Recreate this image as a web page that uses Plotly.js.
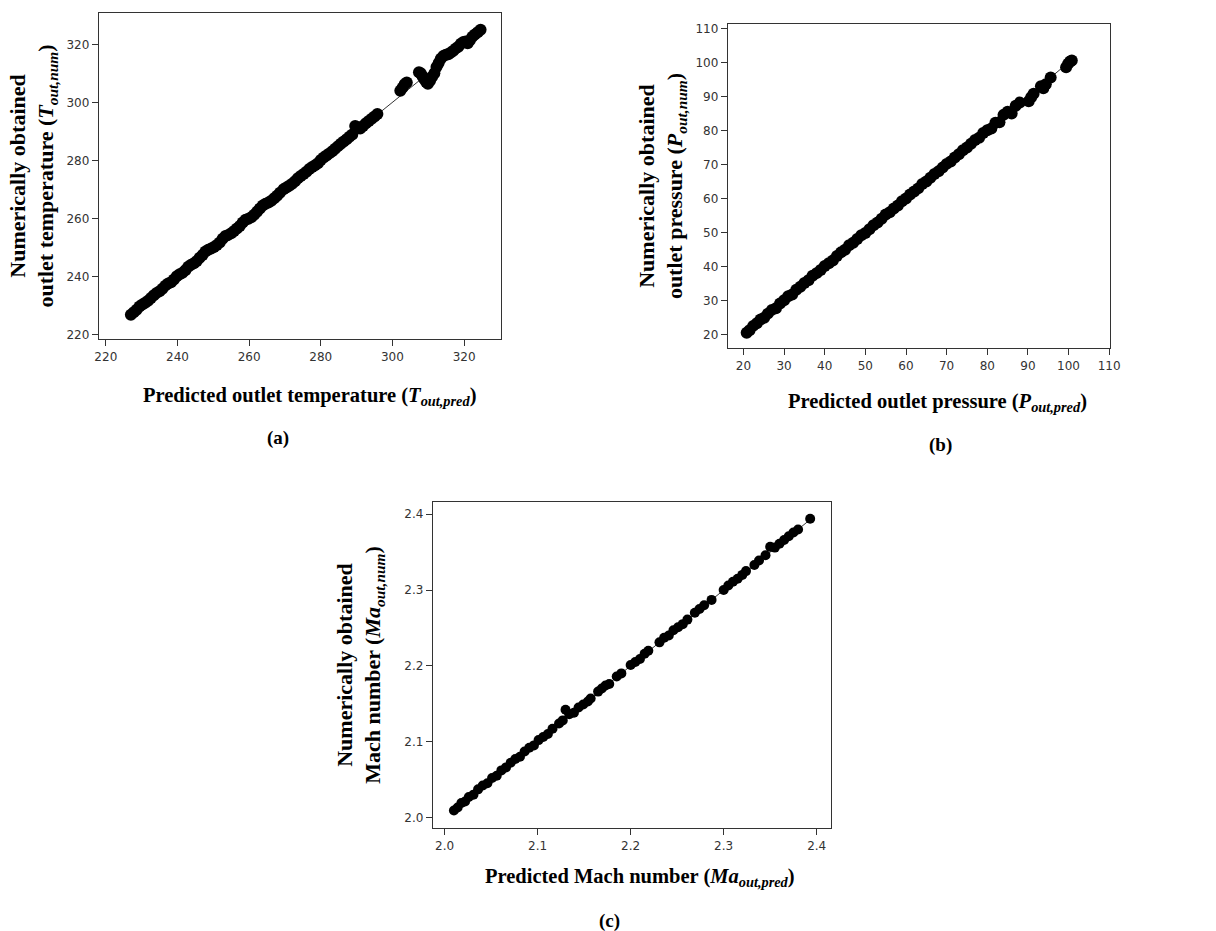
<!DOCTYPE html>
<html>
<head>
<meta charset="utf-8">
<script src="https://cdn.plot.ly/plotly-3.0.1.min.js"></script>
<style>
  html, body { margin: 0; padding: 0; background: #ffffff; }
  #chart { width: 1216px; height: 931px; }
</style>
</head>
<body>
<div id="chart"></div>
<script>
// ---------- Panel (a): outlet temperature ----------
const predA = [227.0,227.8,228.6,229.4,230.2,231.0,231.8,232.6,233.4,234.2,235.0,235.8,236.6,237.4,238.2,239.0,239.8,240.6,241.4,242.2,243.0,243.8,244.6,245.4,246.2,247.0,247.8,248.6,249.4,250.2,251.0,251.8,252.6,253.4,254.2,255.0,255.8,256.6,257.4,258.2,259.0,259.8,260.6,261.4,262.2,263.0,263.8,264.6,265.4,266.2,267.0,267.8,268.6,
  269.6,270.4,271.2,272.0,272.8,273.6,274.4,275.2,276.0,276.8,277.6,278.4,279.2,280.0,280.8,281.6,282.4,283.2,284.0,284.8,285.6,286.4,287.2,288.0,288.8,289.6,
  290.2,291.0,291.8,292.6,293.4,294.2,295.0,295.8,
  302.2,302.8,303.4,304.0,
  307.4,307.9,308.4,308.9,309.4,309.9,310.5,311.1,311.7,312.3,312.9,313.5,314.2,314.9,315.6,316.3,317.0,317.7,318.4,319.1,319.8,320.4,321.0,321.6,322.3,323.0,323.8,324.6];
const numA = [226.8,227.6,228.5,229.6,230.3,230.9,231.6,232.5,233.5,234.3,234.9,235.7,236.8,237.5,238.0,238.9,240.0,240.7,241.2,242.1,243.3,244.0,244.5,245.3,246.4,247.4,248.6,249.2,249.6,250.1,250.8,251.7,253.0,253.9,254.3,254.9,255.6,256.5,257.4,258.6,259.5,259.9,260.4,261.2,262.3,263.4,264.4,265.0,265.5,266.1,266.9,267.8,268.8,
  270.0,270.6,271.2,271.9,272.8,273.8,274.6,275.3,276.1,277.0,277.7,278.3,279.0,280.1,281.0,281.7,282.4,283.1,284.0,284.9,285.7,286.5,287.3,288.1,288.9,291.8,
  291.4,291.0,291.8,292.8,293.6,294.3,295.1,296.0,
  304.0,305.0,306.2,306.8,
  310.4,310.0,309.0,308.0,307.0,306.4,307.4,308.8,310.0,312.2,313.6,315.0,316.0,316.4,316.6,317.2,317.8,318.6,319.2,320.2,320.8,321.0,320.4,321.4,322.6,323.4,324.2,325.0];
const fitAx = [227.0, 324.6];
const fitAy = [227.0, 324.6];
const ticksA = [220, 240, 260, 280, 300, 320];

// ---------- Panel (b): outlet pressure ----------
const predB = [20.8,21.5,22.4,23.3,24.2,25.1,26.0,27.0,28.0,29.0,30.0,31.0,32.0,33.0,34.0,35.0,36.0,37.0,38.0,39.0,40.0,41.0,42.0,43.0,44.0,45.0,46.0,47.0,48.0,49.0,50.0,51.0,52.0,53.0,54.0,55.0,56.0,57.0,58.0,59.0,60.0,61.0,62.0,63.0,64.0,65.0,66.0,67.0,68.0,69.0,70.0,71.0,72.0,73.0,74.0,75.0,76.0,77.0,78.0,79.0,80.0,81.0,82.0,83.0,84.0,85.0,86.0,87.0,88.0,
  90.2,90.8,91.4, 93.2,93.8,94.4, 95.6, 99.4,99.9,100.4,100.8];
const numB = [20.6,21.3,22.6,23.4,24.5,25.0,26.2,27.3,27.8,29.2,30.1,31.3,31.8,33.2,34.1,35.2,36.0,37.3,38.1,39.0,40.2,41.0,41.8,43.1,44.2,45.0,46.3,47.0,48.1,49.2,49.9,51.0,52.2,53.0,54.1,55.3,56.0,57.1,58.0,59.2,60.0,61.2,62.1,63.0,64.3,65.0,66.1,67.2,68.0,69.1,70.2,70.9,72.1,73.0,74.2,75.0,76.1,77.2,77.9,79.3,80.1,80.6,82.3,82.4,84.6,85.5,85.0,87.3,88.2,
  88.6,89.8,90.8, 93.0,92.4,93.6, 95.6, 98.6,99.6,100.3,100.6];
const fitBx = [20.8, 100.8];
const fitBy = [20.8, 100.8];
const ticksB = [20, 30, 40, 50, 60, 70, 80, 90, 100, 110];

// ---------- Panel (c): Mach number ----------
const predC = [2.010,2.014,2.018,2.022,2.026,2.031,2.036,2.041,2.046,2.051,2.056,2.061,2.066,2.071,2.076,2.081,2.086,2.091,2.096,2.101,2.106,2.111,2.116,
  2.123,2.127,2.130,2.134,2.139,2.144,2.149,2.154,2.157,
  2.165,2.169,2.173,2.177,
  2.185,2.190,
  2.200,2.205,2.210,2.215,2.219,
  2.231,2.236,2.241,2.246,2.251,2.256,2.261,
  2.269,2.274,2.279,
  2.287,
  2.300,2.305,2.310,2.315,2.320,2.324,
  2.333,2.338,
  2.345,2.350,2.355,2.360,2.365,2.370,2.375,2.380,
  2.393];
const numC = [2.009,2.013,2.019,2.021,2.027,2.030,2.037,2.042,2.045,2.052,2.055,2.062,2.066,2.072,2.077,2.080,2.087,2.092,2.095,2.102,2.106,2.110,2.117,
  2.124,2.128,2.142,2.136,2.138,2.145,2.149,2.153,2.157,
  2.166,2.170,2.174,2.176,
  2.186,2.190,
  2.201,2.205,2.209,2.216,2.220,
  2.231,2.237,2.240,2.247,2.251,2.255,2.261,
  2.270,2.275,2.280,
  2.287,
  2.300,2.306,2.311,2.315,2.320,2.325,
  2.333,2.339,
  2.346,2.357,2.356,2.361,2.366,2.371,2.376,2.380,
  2.394];
const fitCx = [2.010, 2.393];
const fitCy = [2.010, 2.393];
const ticksC = [2.0, 2.1, 2.2, 2.3, 2.4];

// ---------- text ----------
const xTitleA = "<b>Predicted outlet temperature (<i>T</i><sub><i>out,pred</i></sub>)</b>";
const yTitleA = "<b>Numerically obtained<br>outlet temperature (<i>T</i><sub><i>out,num</i></sub>)</b>";
const xTitleB = "<b>Predicted outlet pressure (<i>P</i><sub><i>out,pred</i></sub>)</b>";
const yTitleB = "<b>Numerically obtained<br>outlet pressure (<i>P</i><sub><i>out,num</i></sub>)</b>";
const xTitleC = "<b>Predicted Mach number (<i>Ma</i><sub><i>out,pred</i></sub>)</b>";
const yTitleC = "<b>Numerically obtained<br>Mach number (<i>Ma</i><sub><i>out,num</i></sub>)</b>";
const panelLabels = ["(a)", "(b)", "(c)"];

// ---------- styling ----------
const serif = "Liberation Serif, Times New Roman, serif";
const sans = "DejaVu Sans, Verdana, sans-serif";
const lineStyle = { color: "#000000", width: 0.8 };

function scatter(x, y, xa, ya, size) {
  return { x: x, y: y, xaxis: xa, yaxis: ya, type: "scatter", mode: "markers",
           marker: { color: "#000000", size: size, symbol: "circle", line: { width: 0 } },
           hoverinfo: "x+y", showlegend: false };
}
function fit(x, y, xa, ya) {
  return { x: x, y: y, xaxis: xa, yaxis: ya, type: "scatter", mode: "lines",
           line: lineStyle, hoverinfo: "skip", showlegend: false };
}

const data = [
  fit(fitAx, fitAy, "x", "y"), scatter(predA, numA, "x", "y", 12),
  fit(fitBx, fitBy, "x2", "y2"), scatter(predB, numB, "x2", "y2", 12),
  fit(fitCx, fitCy, "x3", "y3"), scatter(predC, numC, "x3", "y3", 10)
];

function axis(domain, range, ticks, anchor, title, standoff, fmt) {
  const a = {
    domain: domain, range: range, anchor: anchor,
    tickmode: "array", tickvals: ticks,
    ticks: "outside", ticklen: 6, tickwidth: 1, tickcolor: "#333333",
    showline: true, linecolor: "#333333", linewidth: 1.2, mirror: true,
    showgrid: false, zeroline: false,
    tickfont: { family: sans, size: 12, color: "#333333" },
    automargin: false, fixedrange: true
  };
  if (title) a.title = { text: title, font: { family: serif, size: 22, color: "#000000" }, standoff: standoff };
  if (fmt) a.tickformat = fmt;
  return a;
}

const W = 1216, H = 931;
const fx = (a, b) => [a / W, b / W];
const fy = (top, bottom) => [1 - bottom / H, 1 - top / H];
function label(text, px, py, size) {
  return { text: text, x: px / W, y: 1 - py / H, xref: "paper", yref: "paper",
           xanchor: "center", yanchor: "middle", showarrow: false,
           font: { family: serif, size: size, color: "#000" } };
}

const layout = {
  width: W, height: H,
  margin: { l: 0, r: 0, t: 0, b: 0 },
  paper_bgcolor: "#ffffff", plot_bgcolor: "#ffffff",
  showlegend: false,
  xaxis: axis(fx(99, 501), [218.1, 330.3], ticksA, "y", null),
  yaxis: axis(fy(13, 339), [218.4, 330.8], ticksA, "x", yTitleA, 6),
  xaxis2: axis(fx(728, 1110), [16.2, 110.2], ticksB, "y2", null),
  yaxis2: axis(fy(24, 348), [16.1, 111.3], ticksB, "x2", yTitleB, 6),
  xaxis3: axis(fx(433, 831), [1.9875, 2.4154], ticksC, "y3", null, 0, ".1f"),
  yaxis3: axis(fy(502, 828), [1.986, 2.4162], ticksC, "x3", yTitleC, 17, ".1f"),
  annotations: [
    label(xTitleA, 309, 396, 20.5),
    label(xTitleB, 937, 402, 20.5),
    label(xTitleC, 640, 877, 20.5),
    label("<b>" + panelLabels[0] + "</b>", 278, 438, 19),
    label("<b>" + panelLabels[1] + "</b>", 940, 445, 19),
    label("<b>" + panelLabels[2] + "</b>", 609, 921, 19)
  ]
};

Plotly.newPlot("chart", data, layout, { displayModeBar: false, staticPlot: true });
</script>
</body>
</html>
